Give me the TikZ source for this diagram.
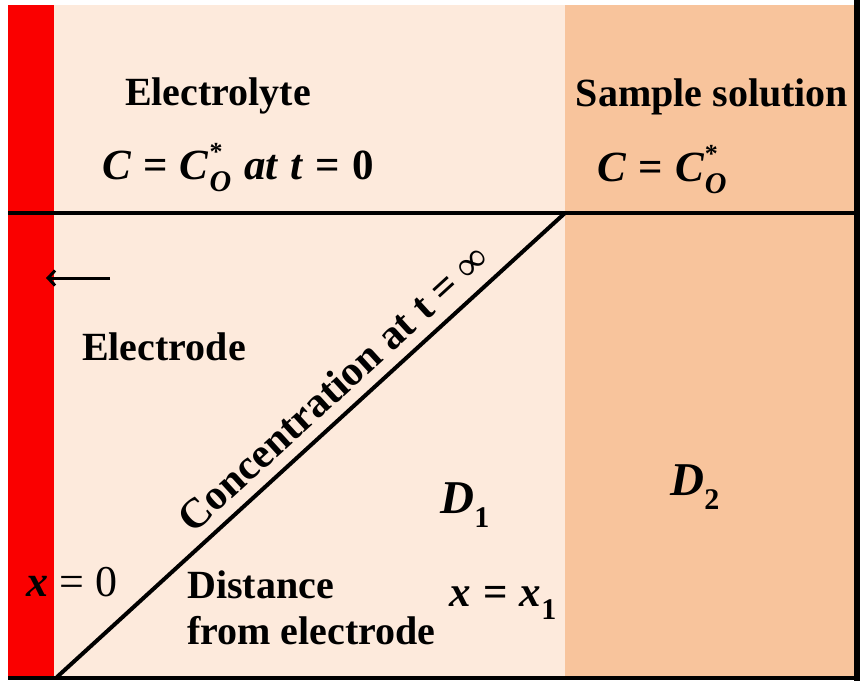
\documentclass[tikz,border=0pt]{standalone}
\usepackage{fontspec}
\usetikzlibrary{arrows.meta}
\setmainfont{Liberation Serif}
\definecolor{pale}{HTML}{FDEADC}
\definecolor{sample}{HTML}{F8C49C}
\definecolor{elec}{HTML}{FA0000}
\newcommand\mi[1]{{\bfseries\itshape #1}}
\newcommand\sbs[1]{\raisebox{-0.3em}{\fontsize{30}{30}\selectfont\bfseries\itshape #1}}
\newcommand\sbn[1]{\raisebox{-0.3em}{\fontsize{30}{30}\selectfont\bfseries #1}}
\newcommand\cstar{\mi{C}\kern1pt\rlap{\raisebox{0.42em}{\fontsize{26}{26}\selectfont\bfseries *}}\sbs{O}}
\newcommand\eqs{\hspace{0.28em}\textbf{=}\hspace{0.28em}}
\tikzset{
  lbl/.style={font=\fontsize{40}{44}\selectfont\bfseries, inner sep=0pt, text=black},
  mth/.style={font=\fontsize{43}{46}\selectfont\bfseries, inner sep=0pt, text=black},
  bline/.style={draw=black, line width=4pt},
}
\begin{document}
\begin{tikzpicture}[x=1pt,y=-1pt]
\useasboundingbox (0,0) rectangle (864,681);
\fill[white] (0,0) rectangle (864,681);
% regions
\fill[pale] (54,5) rectangle (565,677);
\fill[sample] (565,5) rectangle (855,677);
\fill[elec] (8,5) rectangle (54,677);
% coordinates
\coordinate (hl) at (8,213);
\coordinate (hr) at (857,213);
\coordinate (dtop) at (565,213);
\coordinate (dbot) at (57,677);
\coordinate (bl) at (8,678);
\coordinate (br) at (860,678);
\coordinate (tr) at (857,0);
\coordinate (brr) at (857,681);
% borders
\draw[bline] (hl) -- (hr);
\draw[bline] (bl) -- (br);
\draw[draw=black, line width=6pt] (tr) -- (brr);
% diagonal with label
\draw[bline] (dbot) -- node[pos=0.58, sloped, above=11pt, lbl, font=\fontsize{42}{44}\selectfont\bfseries] (conc) {Concentration at t = ∞} (dtop);
% texts
\node[lbl] (electrolyte) at (218,96) {Electrolyte};
\node[mth] (c0) at (238,168) {\mi{C}\eqs\cstar\hspace{0.3em}\mi{at}\hspace{0.3em}\mi{t}\eqs\textbf{0}};
\node[lbl] (sample) at (712,97) {Sample solution};
\node[mth] (cs) at (662,170) {\mi{C}\eqs\cstar};
\node[lbl] (electrode) at (164,347) {Electrode};
\coordinate (arrs) at (110,278);
\coordinate (arre) at (46,278);
\draw[-{Straight Barb[length=7pt,width=15pt,line width=3pt]}, line width=3pt] (arrs) -- (arre);
\node[font=\fontsize{47}{50}\selectfont\bfseries, inner sep=0pt] (d1) at (465,505) {\mi{D}\sbn{1}};
\node[font=\fontsize{47}{50}\selectfont\bfseries, inner sep=0pt] (d2) at (695,487) {\mi{D}\sbn{2}};
\node[font=\fontsize{44}{48}\selectfont, inner sep=0pt] (x0) at (72,582) {\mi{x} = 0};
\node[lbl, align=left, anchor=north west, font=\fontsize{40}{46}\selectfont\bfseries] (dist) at (187,571) {Distance\\from electrode};
\node[mth] (x1) at (503,603) {\mi{x}\eqs\mi{x}\sbn{1}};
\end{tikzpicture}
\end{document}
